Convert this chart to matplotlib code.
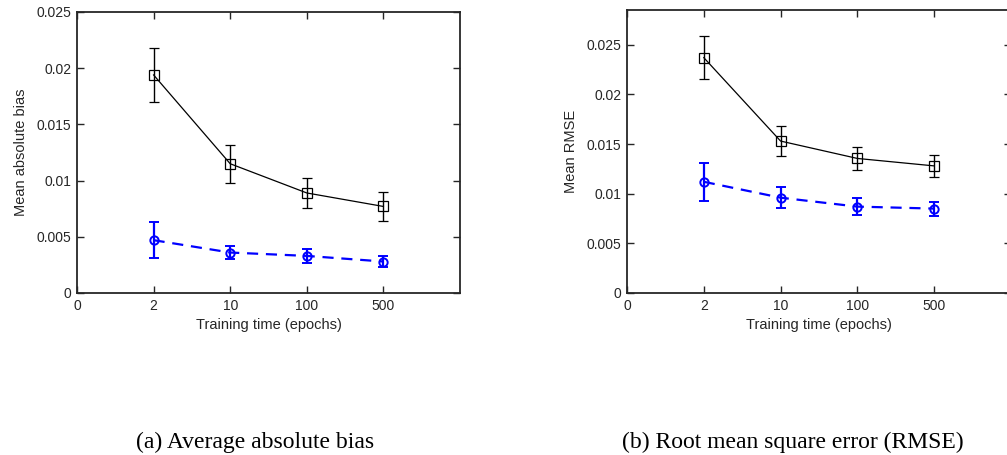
import matplotlib
matplotlib.use('Agg')
import matplotlib.pyplot as plt

# Data
epochs = ['2', '10', '100', '500']
bias_full = [0.0194, 0.0115, 0.0089, 0.0077]
bias_full_err = [0.0024, 0.0017, 0.00137, 0.0013]
bias_ours = [0.0047, 0.0036, 0.0033, 0.0028]
bias_ours_err = [0.0016, 0.0006, 0.0006, 0.0005]

rmse_full = [0.0237, 0.0153, 0.01355, 0.0128]
rmse_full_err = [0.00215, 0.0015, 0.0012, 0.0011]
rmse_ours = [0.0112, 0.0096, 0.0087, 0.0085]
rmse_ours_err = [0.0019, 0.00105, 0.00086, 0.0007]

TXT = '#262626'
plt.rcParams['font.family'] = ['Liberation Sans', 'DejaVu Sans']

fig = plt.figure(figsize=(10.07, 4.55), dpi=100)
ax1 = fig.add_axes([77/1007, 162/455, 383/1007, 281/455])
# right panel runs past the image edge, as in the reference
ax2 = fig.add_axes([627/1007, 162/455, 384/1007, 283/455])

xpos = list(range(1, len(epochs) + 1))


def draw(ax, full, full_err, ours, ours_err, ylabel, ytop, yticks, yticklabels):
    ax.errorbar(xpos, full, yerr=full_err, color='black', lw=0.9, marker='s',
                markersize=7, markerfacecolor='none', markeredgewidth=0.9,
                capsize=3.5, elinewidth=1.0, capthick=1.0)
    ax.errorbar(xpos, ours, yerr=ours_err, color='#0000ff', lw=1.6, ls='--',
                dashes=(5, 3.5), marker='o', markersize=6, markerfacecolor='none',
                markeredgewidth=1.4, capsize=3.5, elinewidth=1.6, capthick=1.6)
    ax.set_xlim(0, 5)
    ax.set_ylim(0, ytop)
    ax.set_xticks([0] + xpos)
    ax.set_xticklabels(['0'] + epochs)
    ax.set_yticks(yticks)
    ax.set_yticklabels(yticklabels)
    ax.tick_params(direction='in', top=True, right=True, length=5, width=1,
                   labelsize=10, colors=TXT, pad=4)
    for s in ax.spines.values():
        s.set_linewidth(1.3)
        s.set_color(TXT)
    ax.set_xlabel('Training time (epochs)', fontsize=10.5, color=TXT, labelpad=4)
    ax.set_ylabel(ylabel, fontsize=10.5, color=TXT, labelpad=6)


yt = [0, 0.005, 0.01, 0.015, 0.02, 0.025]
ytl = ['0', '0.005', '0.01', '0.015', '0.02', '0.025']
draw(ax1, bias_full, bias_full_err, bias_ours, bias_ours_err,
     'Mean absolute bias', 0.025, yt, ytl)
draw(ax2, rmse_full, rmse_full_err, rmse_ours, rmse_ours_err,
     'Mean RMSE', 0.0285, yt, ytl)

fig.text(255.5/1007, 1 - 442/455, '(a) Average absolute bias', ha='center', va='center',
         fontsize=17, family=['Liberation Serif'])
fig.text(793/1007, 1 - 442/455, '(b) Root mean square error (RMSE)', ha='center',
         va='center', fontsize=17, family=['Liberation Serif'])

fig.savefig('out.png', dpi=100)
